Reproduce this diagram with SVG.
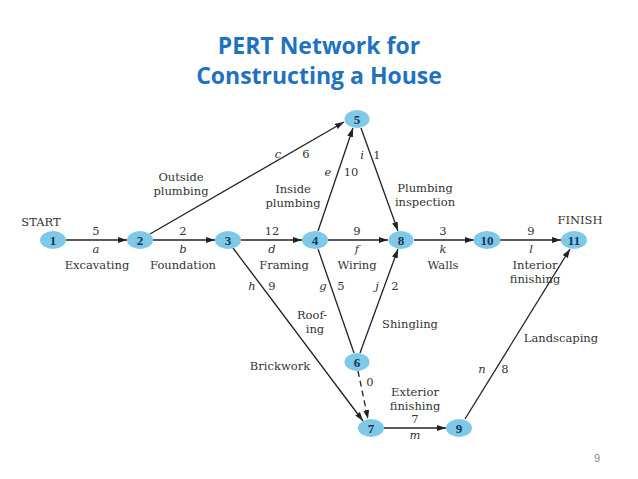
<svg xmlns="http://www.w3.org/2000/svg" width="638" height="479" viewBox="0 0 638 479">
<style>
.title{font-family:"Open Sans","Liberation Sans",sans-serif;font-weight:bold;font-size:23px;fill:#1F72C0;text-anchor:middle}
.lbl{font-family:"DejaVu Serif","Liberation Serif",serif;font-size:11.5px;fill:#333;text-anchor:middle}
.it{font-style:italic}
.node ellipse{fill:#7EC8E8}
.node text{font-family:"Liberation Serif",serif;font-weight:bold;font-size:13px;fill:#1d3550;text-anchor:middle}
.edge{stroke:#222;stroke-width:1.3;fill:none;marker-end:url(#arr)}
.pg{font-family:"Liberation Sans",sans-serif;font-size:11px;fill:#888;text-anchor:middle}
</style>
<defs>
<marker id="arr" markerUnits="userSpaceOnUse" markerWidth="10" markerHeight="7" refX="9" refY="3" orient="auto">
<path d="M0,0 L9,3 L0,6 z" fill="#222"/>
</marker>
</defs>
<rect width="638" height="479" fill="#fff"/>
<text class="title" x="319" y="54">PERT Network for</text>
<text class="title" x="319" y="84">Constructing a House</text>

<g id="connectors">
<line class="edge" x1="66" y1="240" x2="127" y2="240"/>
<line class="edge" x1="153" y1="240" x2="215" y2="240"/>
<line class="edge" x1="241" y1="240" x2="302" y2="240"/>
<line class="edge" x1="328" y1="240" x2="388" y2="240"/>
<line class="edge" x1="414" y1="240" x2="474" y2="240"/>
<line class="edge" x1="500" y1="240" x2="561" y2="240"/>
<line class="edge" x1="150" y1="234" x2="344" y2="122"/>
<line class="edge" x1="318" y1="231" x2="353" y2="128"/>
<line class="edge" x1="361" y1="128" x2="398" y2="231"/>
<line class="edge" x1="318" y1="249" x2="354" y2="353" style="marker-end:none"/>
<line class="edge" x1="360" y1="353" x2="398" y2="249"/>
<line class="edge" x1="233" y1="248" x2="363" y2="421"/>
<line class="edge" x1="358" y1="371" x2="368" y2="419" stroke-dasharray="6,4"/>
<line class="edge" x1="384" y1="428" x2="446" y2="428"/>
<line class="edge" x1="465" y1="419" x2="570" y2="249"/>
</g>

<g id="labels">
<text class="lbl" x="41" y="226">START</text>
<text class="lbl" x="580" y="224">FINISH</text>
<text class="lbl" x="96" y="235">5</text>
<text class="lbl it" x="96" y="253">a</text>
<text class="lbl" x="97" y="269">Excavating</text>
<text class="lbl" x="183" y="235">2</text>
<text class="lbl it" x="183" y="253">b</text>
<text class="lbl" x="183" y="269">Foundation</text>
<text class="lbl" x="272" y="235">12</text>
<text class="lbl it" x="272" y="253">d</text>
<text class="lbl" x="284" y="269">Framing</text>
<text class="lbl" x="357" y="235">9</text>
<text class="lbl it" x="357" y="253">f</text>
<text class="lbl" x="357" y="269">Wiring</text>
<text class="lbl" x="443" y="235">3</text>
<text class="lbl it" x="443" y="253">k</text>
<text class="lbl" x="443" y="269">Walls</text>
<text class="lbl" x="531" y="235">9</text>
<text class="lbl it" x="531" y="253">l</text>
<text class="lbl" x="535" y="269">Interior</text>
<text class="lbl" x="535" y="283">finishing</text>
<text class="lbl it" x="278" y="158">c</text>
<text class="lbl" x="306" y="158">6</text>
<text class="lbl" x="181" y="181">Outside</text>
<text class="lbl" x="181" y="195">plumbing</text>
<text class="lbl it" x="328" y="176">e</text>
<text class="lbl" x="351" y="176">10</text>
<text class="lbl" x="293" y="193">Inside</text>
<text class="lbl" x="293" y="207">plumbing</text>
<text class="lbl it" x="362" y="159">i</text>
<text class="lbl" x="377" y="159">1</text>
<text class="lbl" x="425" y="192">Plumbing</text>
<text class="lbl" x="425" y="206">inspection</text>
<text class="lbl it" x="252" y="290">h</text>
<text class="lbl" x="272" y="290">9</text>
<text class="lbl it" x="323" y="290">g</text>
<text class="lbl" x="341" y="290">5</text>
<text class="lbl it" x="377" y="290">j</text>
<text class="lbl" x="395" y="290">2</text>
<text class="lbl" x="312" y="319">Roof-</text>
<text class="lbl" x="315" y="333">ing</text>
<text class="lbl" x="410" y="328">Shingling</text>
<text class="lbl" x="280" y="370">Brickwork</text>
<text class="lbl" x="370" y="386">0</text>
<text class="lbl" x="415" y="396">Exterior</text>
<text class="lbl" x="415" y="410">finishing</text>
<text class="lbl" x="415" y="423">7</text>
<text class="lbl it" x="415" y="439">m</text>
<text class="lbl it" x="482" y="373">n</text>
<text class="lbl" x="505" y="373">8</text>
<text class="lbl" x="561" y="342">Landscaping</text>
</g>

<g id="n1" class="node"><ellipse cx="53" cy="240" rx="13" ry="9"/><text x="53" y="245">1</text></g>
<g id="n2" class="node"><ellipse cx="140" cy="240" rx="13" ry="9"/><text x="140" y="245">2</text></g>
<g id="n3" class="node"><ellipse cx="228" cy="240" rx="13" ry="9"/><text x="228" y="245">3</text></g>
<g id="n4" class="node"><ellipse cx="315" cy="240" rx="13" ry="9"/><text x="315" y="245">4</text></g>
<g id="n5" class="node"><ellipse cx="357" cy="119" rx="12.5" ry="9"/><text x="357" y="124">5</text></g>
<g id="n6" class="node"><ellipse cx="357" cy="362" rx="12.5" ry="9"/><text x="357" y="367">6</text></g>
<g id="n7" class="node"><ellipse cx="371" cy="428" rx="13" ry="9"/><text x="371" y="433">7</text></g>
<g id="n8" class="node"><ellipse cx="401" cy="240" rx="12.5" ry="9"/><text x="401" y="245">8</text></g>
<g id="n9" class="node"><ellipse cx="459" cy="428" rx="13" ry="9"/><text x="459" y="433">9</text></g>
<g id="n10" class="node"><ellipse cx="487" cy="240" rx="13.5" ry="9"/><text x="487" y="245">10</text></g>
<g id="n11" class="node"><ellipse cx="574" cy="240" rx="13" ry="9"/><text x="574" y="245">11</text></g>

<text class="pg" x="597" y="462">9</text>
</svg>
